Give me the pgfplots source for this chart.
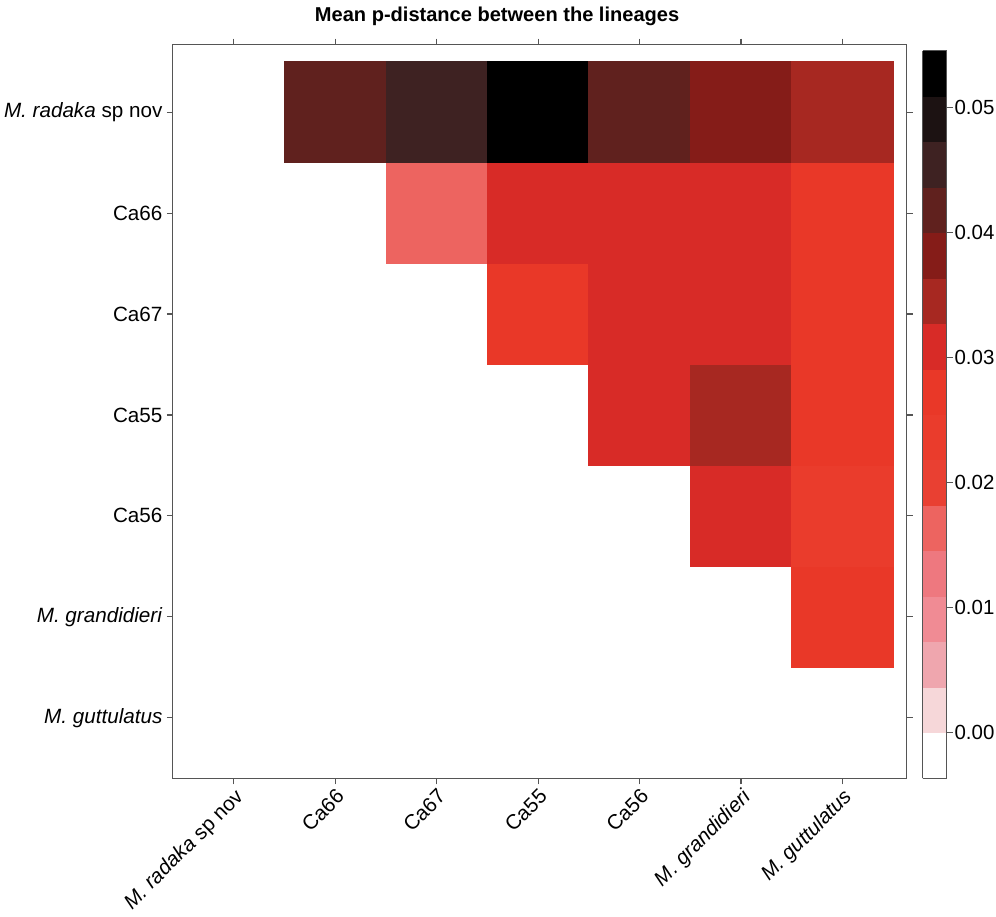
\documentclass[border=0pt]{standalone}
\usepackage{fontspec}
\setmainfont{Liberation Sans}
\usepackage{pgfplots}
\usepackage{pgfplotstable}
\pgfplotsset{compat=1.18}

% columns: x = column lineage index, y = row (6 = M. radaka at top), c = mean p-distance
\pgfplotstableread{
x y c
0 0 nan
1 0 nan
2 0 nan
3 0 nan
4 0 nan
5 0 nan
6 0 nan
0 1 nan
1 1 nan
2 1 nan
3 1 nan
4 1 nan
5 1 nan
6 1 0.0255
0 2 nan
1 2 nan
2 2 nan
3 2 nan
4 2 nan
5 2 0.031
6 2 0.0245
0 3 nan
1 3 nan
2 3 nan
3 3 nan
4 3 0.031
5 3 0.035
6 3 0.0255
0 4 nan
1 4 nan
2 4 nan
3 4 0.027
4 4 0.031
5 4 0.031
6 4 0.0255
0 5 nan
1 5 nan
2 5 0.016
3 5 0.031
4 5 0.031
5 5 0.031
6 5 0.0255
0 6 nan
1 6 0.042
2 6 0.045
3 6 0.053
4 6 0.042
5 6 0.038
6 6 0.034
}\cells

\pgfplotsset{
  colormap={pdist}{
    rgb255=(255,255,255)
    rgb255=(246,215,217)
    rgb255=(239,166,174)
    rgb255=(240,139,148)
    rgb255=(238,120,127)
    rgb255=(237,100,96)
    rgb255=(233,64,50)
    rgb255=(234,60,44)
    rgb255=(233,56,40)
    rgb255=(216,43,39)
    rgb255=(167,40,33)
    rgb255=(133,28,24)
    rgb255=(96,33,30)
    rgb255=(62,34,34)
    rgb255=(28,18,18)
    rgb255=(0,0,0)
  }
}
\definecolor{axgray}{RGB}{85,85,85}

\begin{document}
\begin{tikzpicture}
\begin{axis}[
  scale only axis,
  width=366pt, height=366pt,
  xmin=-0.6, xmax=6.63,
  ymin=-0.6, ymax=6.67,
  xtick={0,...,6}, ytick={0,...,6},
  xticklabels={\textit{M. radaka} sp nov, Ca66, Ca67, Ca55, Ca56, \textit{M. grandidieri}, \textit{M. guttulatus}},
  yticklabels={\textit{M. guttulatus}, \textit{M. grandidieri}, Ca56, Ca55, Ca67, Ca66, \textit{M. radaka} sp nov},
  tick align=outside, tick pos=both,
  major tick length=3pt,
  axis line style={axgray, line width=0.6pt},
  tick style={axgray, line width=0.6pt},
  tick label style={font=\fontsize{10.3}{12}\selectfont},
  x tick label style={rotate=45, anchor=north east, inner sep=1pt},
  y tick label style={inner sep=2pt},
  title={Mean p-distance between the lineages},
  title style={font=\fontsize{10}{12}\selectfont\bfseries, at={(0.442,1)}, anchor=south, yshift=0pt},
  colormap name=pdist,
  colormap access=piecewise constant,
  point meta min=-0.0036364, point meta max=0.0545455,
  unbounded coords=jump,
  colorbar right,
  colorbar shift/.style={xshift=8pt},
  colorbar style={
    scale only axis,
    width=12pt, height=363pt,
    at={(parent axis.south east)}, anchor=south west,
    ytick={0,0.01,0.02,0.03,0.04,0.05},
    scaled y ticks=false,
    ytick pos=right,
    tick align=outside,
    major tick length=3pt,
    axis line style={axgray, line width=0.6pt},
    tick style={axgray, line width=0.6pt},
    yticklabel style={font=\fontsize{10.2}{12}\selectfont, inner sep=0.8pt, /pgf/number format/fixed, /pgf/number format/fixed zerofill, /pgf/number format/precision=2, /pgf/number format/assume math mode=true},
  },
]
\addplot[matrix plot*, mesh/cols=7, point meta=explicit, draw=none] table[x=x, y=y, meta=c] {\cells};
\end{axis}
\end{tikzpicture}
\end{document}
